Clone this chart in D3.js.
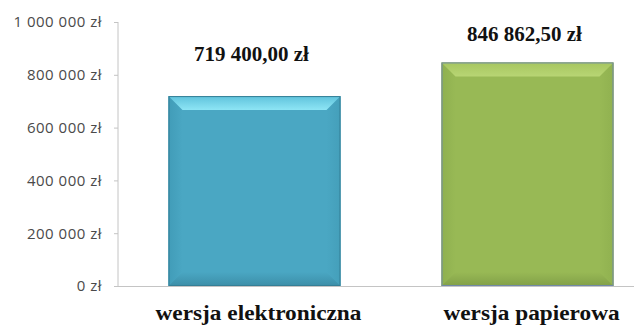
<!DOCTYPE html>
<html>
<head>
<meta charset="utf-8">
<script src="https://cdn.jsdelivr.net/npm/d3@7"></script>
<style>
  body { margin: 0; background: #fff; }
  svg { display: block; }
</style>
</head>
<body>
<svg id="chart" width="634" height="325"></svg>
<script>
// dane
var kategorie = ["wersja elektroniczna", "wersja papierowa"];
var wartosci = [719400, 846862.5];
var etykiety = ["719 400,00 zł", "846 862,50 zł"];
var ticki = [0, 200000, 400000, 600000, 800000, 1000000];

// kolory slupkow: przod, gora (zewn., wewn.), boki, dol, ramka
var kolory = [
	{f: "#4aa7c3", t1: "#5fc3dc", t2: "#8ee5f5", l: "#419cb8", r: "#449fba", b: "#3c8ea8", s: "#357f96"},
	{f: "#98b955", t1: "#a6c65f", t2: "#b8d574", l: "#8eb04f", r: "#90b150", b: "#82a048", s: "#7189a6"}
];

var svg = d3.select("#chart");
var defs = svg.append("defs");
var W = 634, H = 325;
var x0 = 118, y0 = 286, yTop = 22;

var y = d3.scaleLinear().domain([0, 1000000]).range([y0, yTop]);
var x = d3.scaleBand().domain(kategorie).range([x0, 664]).paddingInner(0.37).paddingOuter(0.185);

function fmt(v){
	if(v == 0) return "0 zł";
	return d3.format(",")(v).replace(/,/g, " ") + " zł";
}

// os Y
var osY = svg.append("g")
	.attr("transform", "translate(" + x0 + ",0)")
	.call(d3.axisLeft(y).tickValues(ticki).tickSize(4).tickPadding(12).tickFormat(fmt));
osY.select(".domain").attr("stroke", "#c4c4c4").attr("d", "M0," + yTop + "V" + y0);
osY.selectAll(".tick line").attr("stroke", "#c4c4c4");
osY.selectAll(".tick text")
	.attr("fill", "#4a4a4a")
	.attr("font-family", "'Open Sans', sans-serif")
	.attr("font-size", 15)
	.attr("letter-spacing", 0.5);

// linia bazowa
svg.append("line")
	.attr("x1", x0 - 4).attr("x2", W)
	.attr("y1", y0 + 0.5).attr("y2", y0 + 0.5)
	.attr("stroke", "#c4c4c4");

// slupki z fazowaniem
var bev = 14;
var offsetEtykiety = [35, 21];
for(var i = 0; i < kategorie.length; i++){
	var bx = x(kategorie[i]);
	var bw = x.bandwidth();
	var by = y(wartosci[i]);
	var bh = y0 - by;
	var c = kolory[i];
	var g = svg.append("g");

	var gt = defs.append("linearGradient").attr("id", "gt" + i).attr("x1", 0).attr("y1", 0).attr("x2", 0).attr("y2", 1);
	gt.append("stop").attr("offset", "0%").attr("stop-color", c.t1);
	gt.append("stop").attr("offset", "100%").attr("stop-color", c.t2);

	var gl = defs.append("linearGradient").attr("id", "gl" + i).attr("x1", 0).attr("y1", 0).attr("x2", 1).attr("y2", 0);
	gl.append("stop").attr("offset", "0%").attr("stop-color", c.l);
	gl.append("stop").attr("offset", "100%").attr("stop-color", c.f);

	var gr = defs.append("linearGradient").attr("id", "gr" + i).attr("x1", 1).attr("y1", 0).attr("x2", 0).attr("y2", 0);
	gr.append("stop").attr("offset", "0%").attr("stop-color", c.r);
	gr.append("stop").attr("offset", "100%").attr("stop-color", c.f);

	var gb = defs.append("linearGradient").attr("id", "gb" + i).attr("x1", 0).attr("y1", 1).attr("x2", 0).attr("y2", 0);
	gb.append("stop").attr("offset", "0%").attr("stop-color", c.b);
	gb.append("stop").attr("offset", "100%").attr("stop-color", c.f);

	g.append("rect").attr("x", bx).attr("y", by).attr("width", bw).attr("height", bh).attr("fill", c.f);
	// lewo
	g.append("polygon").attr("points", [[bx, by], [bx + bev, by + bev], [bx + bev, by + bh - bev], [bx, by + bh]].join(" ")).attr("fill", "url(#gl" + i + ")");
	// prawo
	g.append("polygon").attr("points", [[bx + bw, by], [bx + bw, by + bh], [bx + bw - bev, by + bh - bev], [bx + bw - bev, by + bev]].join(" ")).attr("fill", "url(#gr" + i + ")");
	// dol
	g.append("polygon").attr("points", [[bx, by + bh], [bx + bev, by + bh - bev], [bx + bw - bev, by + bh - bev], [bx + bw, by + bh]].join(" ")).attr("fill", "url(#gb" + i + ")");
	// gora
	g.append("polygon").attr("points", [[bx, by], [bx + bw, by], [bx + bw - bev, by + bev], [bx + bev, by + bev]].join(" ")).attr("fill", "url(#gt" + i + ")");
	g.append("rect").attr("x", bx + 0.5).attr("y", by + 0.5).attr("width", bw - 1).attr("height", bh - 1)
		.attr("fill", "none").attr("stroke", c.s).attr("stroke-width", 1);

	// etykieta wartosci
	svg.append("text")
		.attr("x", bx + bw / 2 - 3)
		.attr("y", by - offsetEtykiety[i])
		.attr("text-anchor", "middle")
		.attr("font-family", "'Liberation Serif', serif")
		.attr("font-weight", "bold")
		.attr("font-size", 21)
		.attr("fill", "#111")
		.text(etykiety[i]);
}

// os X
svg.selectAll(".kat").data(kategorie).enter().append("text")
	.attr("class", "kat")
	.attr("transform", function(d){ return "translate(" + (x(d) + x.bandwidth() / 2 + 4) + ",320) scale(1.11,1)"; })
	.attr("text-anchor", "middle")
	.attr("font-family", "'Liberation Serif', serif")
	.attr("font-weight", "bold")
	.attr("font-size", 21)
	.attr("fill", "#111")
	.text(function(d){ return d; });
</script>
</body>
</html>
